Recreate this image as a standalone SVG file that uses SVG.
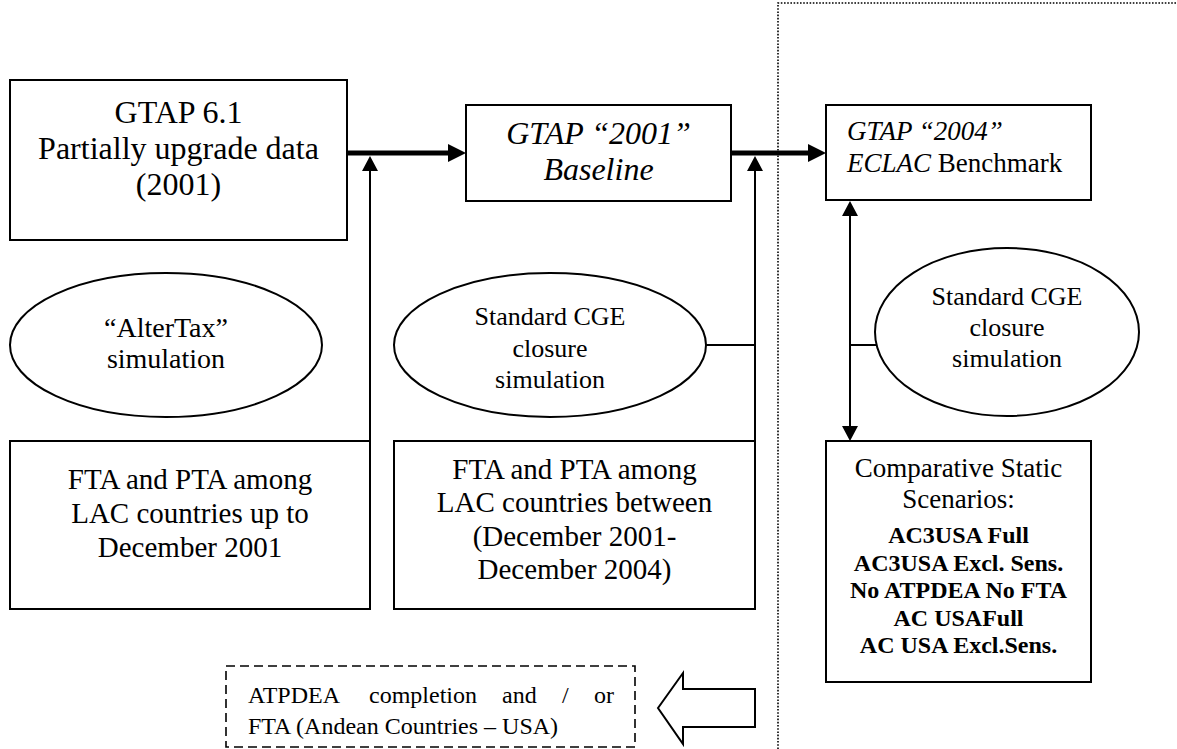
<svg xmlns="http://www.w3.org/2000/svg" width="1177" height="749" viewBox="0 0 1177 749">
<style>
.box{fill:#fff;stroke:#000;stroke-width:2}
.ell{fill:#fff;stroke:#000;stroke-width:2}
.t{font-family:"Liberation Serif","Times New Roman",serif;fill:#000}
.c{text-anchor:middle}
.i{font-style:italic}
.b{font-weight:bold}
.thin{stroke:#000;stroke-width:2;fill:none}
.heavy{stroke:#000;stroke-width:5;fill:none}
.dot{stroke:#000;stroke-width:1.6;stroke-dasharray:1.6 1.6;fill:none}
.dash{fill:#fff;stroke:#000;stroke-width:1.6;stroke-dasharray:9 5}
</style>
<defs>
<marker id="hh" markerUnits="userSpaceOnUse" markerWidth="18" markerHeight="18" refX="8" refY="9" orient="auto"><path d="M0,0 L18,9 L0,18 z" fill="#000"/></marker>
<marker id="th" markerUnits="userSpaceOnUse" markerWidth="15" markerHeight="16" refX="5" refY="8" orient="auto-start-reverse"><path d="M0,0 L15,8 L0,16 z" fill="#000"/></marker>
</defs>
<rect width="1177" height="749" fill="#fff"/>

<g id="divider">
<path class="dot" d="M778,749 L778,3 L1177,3"/>
</g>

<g id="connectors">
<line class="heavy" x1="347" y1="153" x2="456" y2="153" marker-end="url(#hh)"/>
<line class="heavy" x1="731" y1="153" x2="816" y2="153" marker-end="url(#hh)"/>
<line class="thin" x1="370" y1="441" x2="370" y2="166" marker-end="url(#th)"/>
<line class="thin" x1="755" y1="441" x2="755" y2="166" marker-end="url(#th)"/>
<line class="thin" x1="706" y1="345" x2="755" y2="345"/>
<line class="thin" x1="850" y1="211" x2="850" y2="431" marker-start="url(#th)" marker-end="url(#th)"/>
<line class="thin" x1="850" y1="345" x2="877" y2="345"/>
</g>

<g id="gtap61">
<rect class="box" x="10" y="80" width="337" height="160"/>
<text class="t c" font-size="32" x="178.5" y="123">GTAP 6.1</text>
<text class="t c" font-size="32" x="178.5" y="159">Partially upgrade data</text>
<text class="t c" font-size="32" x="178.5" y="195">(2001)</text>
</g>

<g id="gtap2001">
<rect class="box" x="466" y="105" width="265" height="96"/>
<text class="t c i" font-size="32" x="598.5" y="144">GTAP “2001”</text>
<text class="t c i" font-size="32" x="598.5" y="180">Baseline</text>
</g>

<g id="gtap2004">
<rect class="box" x="826" y="105" width="265" height="95"/>
<text class="t i" font-size="27" x="847" y="140">GTAP “2004”</text>
<text class="t" font-size="27" x="847" y="172"><tspan font-style="italic">ECLAC</tspan> Benchmark</text>
</g>

<g id="altertax">
<ellipse class="ell" cx="166" cy="345" rx="156" ry="72"/>
<text class="t c" font-size="28" x="166" y="337">“AlterTax”</text>
<text class="t c" font-size="28" x="166" y="368">simulation</text>
</g>

<g id="cge1">
<ellipse class="ell" cx="550" cy="345" rx="156" ry="72"/>
<text class="t c" font-size="26" x="550" y="325">Standard CGE</text>
<text class="t c" font-size="26" x="550" y="357">closure</text>
<text class="t c" font-size="26" x="550" y="388">simulation</text>
</g>

<g id="cge2">
<ellipse class="ell" cx="1007" cy="332" rx="132" ry="84"/>
<text class="t c" font-size="26" x="1007" y="305">Standard CGE</text>
<text class="t c" font-size="26" x="1007" y="336">closure</text>
<text class="t c" font-size="26" x="1007" y="367">simulation</text>
</g>

<g id="fta2001">
<rect class="box" x="10" y="441" width="360" height="168"/>
<text class="t c" font-size="29" x="190" y="489">FTA and PTA among</text>
<text class="t c" font-size="29" x="190" y="523">LAC countries up to</text>
<text class="t c" font-size="29" x="190" y="557">December 2001</text>
</g>

<g id="fta2004">
<rect class="box" x="394" y="441" width="361" height="168"/>
<text class="t c" font-size="29" x="574.5" y="479">FTA and PTA among</text>
<text class="t c" font-size="29" x="574.5" y="512">LAC countries between</text>
<text class="t c" font-size="29" x="574.5" y="546">(December 2001-</text>
<text class="t c" font-size="29" x="574.5" y="579">December 2004)</text>
</g>

<g id="scenarios">
<rect class="box" x="826" y="441" width="265" height="241"/>
<text class="t c" font-size="27" x="958.5" y="477">Comparative Static</text>
<text class="t c" font-size="27" x="958.5" y="508">Scenarios:</text>
<text class="t c b" font-size="24" x="958.5" y="543">AC3USA Full</text>
<text class="t c b" font-size="24" x="958.5" y="571">AC3USA Excl. Sens.</text>
<text class="t c b" font-size="24" x="958.5" y="598">No ATPDEA No FTA</text>
<text class="t c b" font-size="24" x="958.5" y="626">AC USAFull</text>
<text class="t c b" font-size="24" x="958.5" y="653">AC USA Excl.Sens.</text>
</g>

<g id="atpdea">
<rect class="dash" x="226" y="666" width="409" height="81"/>
<text class="t" font-size="24" y="703"><tspan x="248">ATPDEA</tspan><tspan x="369">completion</tspan><tspan x="502">and</tspan><tspan x="562">/</tspan><tspan x="594">or</tspan></text>
<text class="t" font-size="24" x="248" y="734">FTA (Andean Countries – USA)</text>
</g>

<g id="blockarrow">
<polygon points="658,708 683,673 683,689 755,689 755,727 683,727 683,744" fill="#fff" stroke="#000" stroke-width="2" stroke-linejoin="miter"/>
</g>
</svg>
